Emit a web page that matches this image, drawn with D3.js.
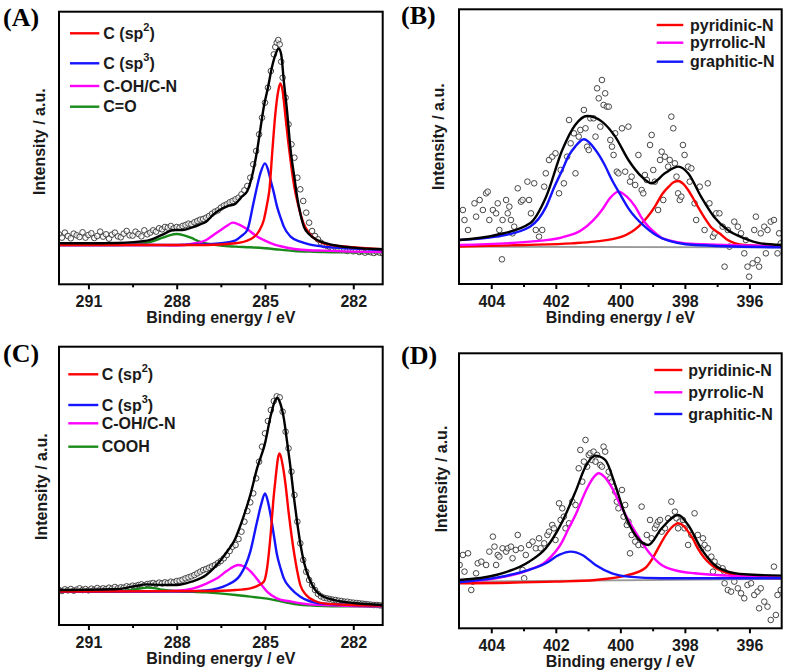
<!DOCTYPE html>
<html><head><meta charset="utf-8">
<script src="https://cdn.jsdelivr.net/npm/d3@7"></script>
<style>body{margin:0;background:#fff}</style>
</head><body><svg id="c" width="787" height="672"></svg>
<script>
// ---------- tick labels ----------
const ticksC = [291, 288, 285, 282];
const minorC = [289.5, 286.5, 283.5];
const ticksN = [404, 402, 400, 398, 396];
const minorN = [403, 401, 399, 397];

// ---------- legend labels ----------
const legendA = ["C (sp^2)", "C (sp^3)", "C-OH/C-N", "C=O"];
const legendC = ["C (sp^2)", "C (sp^3)", "C-OH/C-N", "COOH"];
const legendN = ["pyridinic-N", "pyrrolic-N", "graphitic-N"];

// ---------- Panel A (C1s) [eV, intensity] ----------
const A_CO = [[292,118],[290,118],[289.5,120],[289,125],[288.75,131],[288.5,139],[288.25,147],[288,151],[287.75,147],[287.5,139],[287.25,129],[287,123],[286.5,116],[286,113],[285.5,111],[285,108],[284.5,104],[284,100],[283.5,98],[283,97],[282,96],[281,96]];
const A_COH = [[292,118],[289,118],[288,117],[287.5,121],[287,133],[286.75,148],[286.5,163],[286.25,178],[286.1,185],[285.9,180],[285.6,165],[285.3,145],[285,131],[284.7,120],[284.5,115],[284,106],[283.5,102],[283,101],[282,98],[281,97]];
const A_sp3 = [[292,118],[289,118],[288,118],[287,120],[286.5,123],[286,132],[285.8,145],[285.6,163],[285.4,240],[285.27,293],[285.15,335],[285.0,363],[284.9,345],[284.81,313],[284.7,275],[284.59,233],[284.45,195],[284.36,173],[284.13,143],[283.8,128],[283.5,120],[283,113],[282,107],[281,103]];
const A_sp2 = [[292,118],[288,118],[287,118],[286,123],[285.5,135],[285.2,160],[285.04,193],[284.93,240],[284.85,283],[284.75,400],[284.65,510],[284.55,580],[284.48,603],[284.4,580],[284.3,500],[284.2,420],[284.1,350],[284.0,290],[283.85,230],[283.7,185],[283.5,153],[283.25,133],[283,123],[282.5,115],[282,111],[281,105]];
const A_env = [[292,123],[291,123],[290,124],[289,131],[288.5,148],[288.1,163],[287.8,163],[287.5,170],[287.2,180],[287,188],[286.75,210],[286.5,225],[286.25,235],[286.0,242],[285.8,262],[285.6,280],[285.4,340],[285.27,400],[285.15,470],[285.04,533],[284.9,590],[284.76,653],[284.62,695],[284.53,708],[284.45,690],[284.36,610],[284.25,520],[284.13,403],[284.0,320],[283.91,263],[283.8,213],[283.68,173],[283.5,150],[283.23,133],[283,125],[282.5,115],[282,110],[281,105]];
const A_pts = [[292.0,150],[291.9,140],[291.8,155],[291.7,145],[291.6,138],[291.5,152],[291.4,147],[291.3,142],[291.2,156],[291.1,140],[291.0,148],[290.9,153],[290.8,139],[290.7,145],[290.6,158],[290.5,143],[290.4,150],[290.3,137],[290.2,149],[290.1,155],[290.0,144],[289.9,141],[289.8,152],[289.7,160],[289.6,147],[289.5,146],[289.4,158],[289.3,151],[289.2,144],[289.1,162],[289.0,150],
[288.9,155],[288.8,162],[288.7,158],[288.6,168],[288.5,165],[288.4,172],[288.3,170],[288.2,175],[288.1,168],[288.0,172],
[287.9,170],[287.8,175],[287.7,178],[287.6,182],[287.5,180],[287.4,186],[287.3,190],[287.2,194],[287.1,196],[287.0,200],
[286.9,205],[286.8,212],[286.7,218],[286.6,222],[286.5,230],[286.4,236],[286.3,240],[286.2,246],[286.1,250],[286.0,255],
[285.9,260],[285.8,270],[285.7,282],[285.6,295],[285.5,320],[285.4,360],[285.3,400],[285.2,450],[285.1,500],[285.0,545],
[284.9,590],[284.8,640],[284.7,690],[284.65,712],[284.6,725],[284.55,733],[284.5,720],[284.45,668],[284.4,620],[284.3,560],[284.2,480],[284.1,420],[284.0,380],
[283.9,320],[283.8,285],[283.7,250],[283.6,215],[283.5,185],[283.4,160],[283.3,145],[283.2,135],[283.1,125],[283.0,118],
[282.9,115],[282.8,112],[282.7,108],[282.6,110],[282.5,105],[282.4,107],[282.3,103],[282.2,100],[282.1,104],[282.0,99],[281.9,101],[281.8,97],[281.7,99],[281.6,95],[281.5,98],[281.4,96],[281.3,94],[281.2,97],[281.1,95],[281.0,93]];

// ---------- Panel B (N1s) ----------
const B_base = [[405,112],[395,110]];
const B_pyd = [[405,112],[403,117],[401.5,122],[400.8,127],[399.95,142],[399.44,172],[398.93,232],[398.7,270],[398.5,292],[398.35,305],[398.2,309],[398.05,300],[397.9,282],[397.75,258],[397.6,232],[397.4,200],[397.2,172],[396.9,150],[396.67,132],[396.16,117],[395,112]];
const B_pyr = [[405,117],[402.8,127],[401.8,140],[401.2,162],[400.85,190],[400.57,222],[400.3,260],[400.06,277],[399.8,262],[399.54,232],[399.35,200],[399.13,172],[398.9,152],[398.7,137],[397.7,120],[395,114]];
const B_gra = [[405,132],[403.85,142],[402.8,172],[402.3,232],[402.05,290],[401.8,342],[401.6,385],[401.4,412],[401.13,434],[400.77,402],[400.5,360],[400.26,312],[400.0,268],[399.75,227],[399.24,172],[398.7,137],[397.7,117],[395,110]];
const B_env = [[405,132],[403.85,147],[402.8,182],[402.3,262],[401.8,402],[401.4,477],[401.03,504],[400.57,487],[400.16,442],[399.75,372],[399.34,322],[399.03,302],[398.62,332],[398.2,352],[397.9,332],[397.5,262],[397.1,202],[396.67,162],[396.16,137],[395.65,122],[395,117]];
const B_pts = [[404.88,222],[404.83,192],[404.72,162],[404.52,242],[404.47,202],[404.36,252],[404.26,222],[404.16,272],[404.11,277],[404.06,192],[403.95,222],[403.85,212],[403.80,242],[403.75,162],[403.65,192],[403.67,74],[403.54,252],[403.49,212],[403.44,232],[403.39,192],[403.34,152],[403.29,172],[403.18,287],[403.08,247],[403.03,252],[402.88,307],[402.83,252],[402.77,212],[402.67,302],[402.62,162],[402.52,142],[402.42,162],[402.36,292],[402.31,332],[402.21,372],[402.11,382],[402.01,392],[401.90,272],[401.85,342],[401.75,302],[401.65,382],[401.59,492],[401.54,422],[401.44,452],[401.39,332],[401.29,442],[401.24,462],[401.13,522],[401.08,467],[401.03,412],[400.98,402],[400.93,497],[400.83,497],[400.77,442],[400.72,587],[400.67,557],[400.62,472],[400.57,612],[400.52,537],[400.47,572],[400.42,532],[400.36,532],[400.31,432],[400.26,412],[400.21,387],[400.16,452],[400.11,337],[400.06,332],[399.95,467],[399.85,337],[399.75,472],[399.70,307],[399.65,322],[399.54,297],[399.44,387],[399.34,282],[399.29,272],[399.24,327],[399.18,312],[399.08,417],[399.03,447],[398.98,342],[398.93,307],[398.83,222],[398.77,372],[398.72,397],[398.67,252],[398.62,382],[398.52,352],[398.47,372],[398.42,502],[398.36,467],[398.31,362],[398.26,322],[398.21,272],[398.16,252],[398.11,262],[398.06,417],[398.01,387],[397.90,352],[397.85,307],[397.80,347],[397.70,242],[397.65,192],[397.54,292],[397.39,162],[397.29,302],[397.24,242],[397.13,142],[397.08,152],[397.03,212],[396.93,212],[396.83,172],[396.77,52],[396.67,162],[396.62,112],[396.47,187],[396.36,172],[396.26,152],[396.16,92],[396.11,132],[396.06,52],[396.01,22],[395.90,62],[395.85,162],[395.80,202],[395.75,72],[395.70,52],[395.65,152],[395.54,172],[395.49,92],[395.44,162],[395.34,187],[395.24,192],[395.13,92],[395.08,152],[395.03,122]];

// ---------- Panel C (C1s) ----------
const C_COOH = [[292,100],[290,101],[289.5,105],[289.2,110],[289.0,112],[288.7,110],[288.5,106],[288,102],[287,98],[286,90],[285.5,85],[285,80],[284.5,72],[284,63],[283.5,59],[283,57],[282,56],[281,55]];
const C_COH = [[292,100],[289,101],[288,103],[287.43,110],[286.97,125],[286.63,140],[286.3,162],[286.05,176],[285.9,180],[285.75,177],[285.61,170],[285.38,150],[285.16,125],[284.93,100],[284.6,80],[284.1,70],[283.5,62],[283,60],[282,57],[281,56]];
const C_sp3 = [[292,100],[288,100],[287,104],[286.29,120],[285.84,150],[285.5,220],[285.27,310],[285.12,365],[285.0,395],[284.9,370],[284.81,330],[284.7,270],[284.59,210],[284.47,170],[284.36,140],[284.13,110],[283.8,85],[283.5,72],[283,64],[282,60],[281,58]];
const C_sp2 = [[292,100],[287,102],[286,105],[285.5,110],[285.2,120],[285.04,130],[284.93,170],[284.81,270],[284.72,370],[284.64,440],[284.55,505],[284.5,515],[284.4,480],[284.3,420],[284.2,340],[284.1,270],[284.0,210],[283.9,160],[283.8,120],[283.6,90],[283.3,72],[283,65],[282,60],[281,58]];
const C_env = [[292,105],[290,108],[289.5,115],[289,122],[288.5,120],[288,120],[287.5,130],[287,150],[286.75,170],[286.5,195],[286.25,225],[286.06,250],[285.75,320],[285.5,390],[285.27,470],[285.0,545],[284.8,630],[284.65,675],[284.58,682],[284.5,670],[284.36,620],[284.25,550],[284.13,470],[284.02,385],[283.91,310],[283.8,245],[283.68,190],[283.45,130],[283.11,90],[282.5,72],[282,66],[281,60]];
const C_pts = [[292.0,105],[291.9,102],[291.8,107],[291.7,104],[291.6,108],[291.5,103],[291.4,106],[291.3,110],[291.2,105],[291.1,108],[291.0,104],[290.9,109],[290.8,106],[290.7,111],[290.6,107],[290.5,110],[290.4,108],[290.3,112],[290.2,109],[290.1,114],[290.0,110],[289.9,113],[289.8,112],[289.7,116],[289.6,114],[289.5,118],[289.4,117],[289.3,120],[289.2,122],[289.1,119],[289.0,123],
[288.9,124],[288.8,126],[288.7,123],[288.6,127],[288.5,125],[288.4,128],[288.3,126],[288.2,130],[288.1,128],[288.0,132],
[287.9,133],[287.8,136],[287.7,140],[287.6,143],[287.5,146],[287.4,150],[287.3,155],[287.2,160],[287.1,165],[287.0,168],
[286.9,172],[286.8,176],[286.7,180],[286.6,186],[286.5,192],[286.4,200],[286.3,210],[286.2,222],[286.1,235],[286.0,240],
[285.9,258],[285.8,280],[285.7,310],[285.6,342],[285.5,368],[285.4,395],[285.3,440],[285.2,490],[285.1,535],[285.0,575],
[284.9,612],[284.8,645],[284.7,672],[284.6,686],[284.5,683],[284.4,640],[284.3,580],[284.2,530],[284.1,460],[284.0,390],
[283.9,310],[283.8,245],[283.7,195],[283.6,160],[283.5,135],[283.4,120],[283.3,105],[283.2,93],[283.1,86],[283.0,82],
[282.9,80],[282.8,78],[282.7,76],[282.6,75],[282.5,73],[282.4,72],[282.3,70],[282.2,70],[282.1,68],[282.0,67],[281.9,66],[281.8,65],[281.7,64],[281.6,63],[281.5,62],[281.4,61],[281.3,60],[281.2,60],[281.1,59],[281.0,58]];

// ---------- Panel D (N1s) ----------
const D_base = [[405,140],[395,148]];
const D_pyd = [[405,135],[402,140],[400.77,145],[399.75,160],[399.24,180],[399.0,210],[398.83,240],[398.52,290],[398.35,308],[398.21,315],[398.05,308],[397.9,290],[397.75,268],[397.6,240],[397.4,212],[397.18,190],[396.67,165],[396.16,155],[395,150]];
const D_pyr = [[405,140],[403.85,150],[402.83,175],[402.31,200],[401.8,260],[401.6,300],[401.39,340],[401.03,420],[400.85,450],[400.67,465],[400.5,455],[400.31,430],[399.95,360],[399.54,290],[399.13,230],[398.72,190],[398.21,172],[397.7,165],[396.67,158],[395,152]];
const D_gra = [[405,138],[403.85,152],[402.83,175],[402.31,195],[401.9,220],[401.54,230],[401.18,220],[400.77,190],[400.26,165],[399.75,155],[398.72,150],[395,150]];
const D_env = [[405,145],[403.85,160],[402.83,200],[402.31,240],[401.8,320],[401.39,410],[401.08,485],[400.77,518],[400.47,505],[400.16,430],[399.85,340],[399.54,280],[399.13,250],[398.72,300],[398.21,340],[397.9,310],[397.5,240],[397.08,190],[396.67,170],[396.16,162],[395,158]];
const D_pts = [[404.98,190],[404.88,220],[404.83,170],[404.72,225],[404.62,115],[404.57,140],[404.47,165],[404.42,195],[404.31,200],[404.21,145],[404.16,190],[404.06,230],[403.95,275],[403.90,245],[403.85,190],[403.80,220],[403.75,215],[403.65,240],[403.54,230],[403.49,240],[403.39,245],[403.34,210],[403.24,235],[403.18,280],[403.08,240],[403.03,175],[402.98,150],[402.93,220],[402.83,250],[402.72,260],[402.62,240],[402.52,270],[402.47,240],[402.36,255],[402.26,280],[402.21,290],[402.11,310],[402.06,300],[402.01,265],[401.90,375],[401.85,325],[401.80,360],[401.75,335],[401.70,300],[401.59,315],[401.49,380],[401.39,370],[401.29,480],[401.24,535],[401.18,440],[401.13,500],[401.08,565],[401.03,485],[400.98,520],[400.93,525],[400.88,505],[400.83,530],[400.77,500],[400.72,520],[400.62,490],[400.57,485],[400.52,545],[400.47,530],[400.36,470],[400.31,450],[400.26,440],[400.16,410],[400.11,380],[400.06,360],[399.95,415],[399.90,335],[399.85,370],[399.80,310],[399.75,320],[399.70,225],[399.65,280],[399.54,260],[399.44,250],[399.34,365],[399.29,250],[399.18,280],[399.08,325],[399.03,270],[398.93,300],[398.88,310],[398.83,320],[398.77,325],[398.72,290],[398.62,300],[398.52,330],[398.42,380],[398.31,350],[398.26,330],[398.21,300],[398.16,320],[398.06,325],[398.01,300],[397.90,250],[397.80,280],[397.70,345],[397.60,280],[397.49,240],[397.44,270],[397.39,250],[397.29,240],[397.18,215],[397.13,170],[397.08,200],[396.98,185],[396.83,180],[396.77,135],[396.78,170],[396.67,115],[396.57,110],[396.47,140],[396.36,120],[396.26,105],[396.16,90],[396.06,130],[395.95,135],[395.85,100],[395.75,110],[395.70,60],[395.65,120],[395.54,80],[395.44,65],[395.34,25],[395.24,185],[395.18,40],[395.13,100],[395.03,115]];

// ---------- drawing ----------
const RED = "#ff0000", BLUE = "#1414ff", MAG = "#ff00ff", GREEN = "#1a8a1a", GRAY = "#9a9a9a";
const svg = d3.select("#c");
const SANS = "'Liberation Sans', Arial, sans-serif";

const panels = [
  {id:"A", box:[59,11.7,382.7,284.3], xd:[292,281], ymax:818, ticks:ticksC, minor:minorC,
   pts:A_pts, curves:[[A_CO,GREEN],[A_COH,MAG],[A_sp3,BLUE],[A_sp2,RED],[A_env,"#000"]],
   legend:{labels:legendA, colors:[RED,BLUE,MAG,GREEN], x1:70, x2:99.3, tx:103.3, ys:[33.3,63.3,86,106.7]},
   tag:[3,26], ytitle:[45,141.7]},
  {id:"B", box:[459,9.3,781.7,284], xd:[405,395], ymax:824, ticks:ticksN, minor:minorN,
   pts:B_pts, curves:[[B_base,GRAY],[B_pyd,RED],[B_pyr,MAG],[B_gra,BLUE],[B_env,"#000"]],
   legend:{labels:legendN, colors:[RED,MAG,BLUE], x1:656.7, x2:683.3, tx:690, ys:[25,42.7,61.7]},
   tag:[401,24], ytitle:[444,136.7]},
  {id:"C", box:[59,346.7,382.7,625], xd:[292,281], ymax:835, ticks:ticksC, minor:minorC,
   pts:C_pts, curves:[[C_COOH,GREEN],[C_COH,MAG],[C_sp3,BLUE],[C_sp2,RED],[C_env,"#000"]],
   legend:{labels:legendC, colors:[RED,BLUE,MAG,GREEN], x1:68.3, x2:98.3, tx:101.7, ys:[374.3,405,423.3,446.7]},
   tag:[3,362], ytitle:[46.5,486.7]},
  {id:"D", box:[459,353.3,781.7,628.3], xd:[405,395], ymax:825, ticks:ticksN, minor:minorN,
   pts:D_pts, curves:[[D_base,GRAY],[D_pyd,RED],[D_pyr,MAG],[D_gra,BLUE],[D_env,"#000"]],
   legend:{labels:legendN, colors:[RED,MAG,BLUE], x1:654.3, x2:682.3, tx:688.3, ys:[370,392.3,414]},
   tag:[401,364], ytitle:[446.5,479]}
];

panels.forEach(p => {
  const [x0,y0,x1,y1] = p.box;
  const x = d3.scaleLinear().domain(p.xd).range([x0,x1]);
  const y = d3.scaleLinear().domain([0,p.ymax]).range([y1,y0]);
  const g = svg.append("g");
  const clipId = "clip"+p.id;
  svg.append("clipPath").attr("id",clipId).append("rect")
     .attr("x",x0).attr("y",y0).attr("width",x1-x0).attr("height",y1-y0);
  const inner = g.append("g").attr("clip-path",`url(#${clipId})`);

  inner.selectAll("circle").data(p.pts).join("circle")
    .attr("cx",d=>x(d[0])).attr("cy",d=>y(d[1])).attr("r",2.8)
    .attr("fill","#fff").attr("fill-opacity",0.6).attr("stroke","#333").attr("stroke-width",0.9);

  const line = d3.line().x(d=>x(d[0])).y(d=>y(d[1])).curve(d3.curveMonotoneX);
  p.curves.forEach(([data,col]) => {
    const sorted = data.slice().sort((a,b)=>b[0]-a[0]);
    inner.append("path").attr("d",line(sorted)).attr("fill","none")
      .attr("stroke",col).attr("stroke-width", col===GRAY?1.8:2.4).attr("stroke-linejoin","round");
  });

  // frame
  g.append("rect").attr("x",x0).attr("y",y0).attr("width",x1-x0).attr("height",y1-y0)
    .attr("fill","none").attr("stroke","#000").attr("stroke-width",2);

  // axes
  const ax = g.append("g").attr("transform",`translate(0,${y1})`)
    .call(d3.axisBottom(x).tickValues(p.ticks).tickSize(5).tickPadding(6).tickFormat(d3.format("d")));
  ax.select(".domain").remove();
  ax.selectAll(".tick line").attr("stroke","#000").attr("stroke-width",2);
  ax.selectAll(".tick text").attr("dy",null).attr("y",22.5)
    .attr("font-family",SANS).attr("font-weight","bold").attr("font-size",16).attr("fill","#1a1a1a");
  const axm = g.append("g").attr("transform",`translate(0,${y1})`)
    .call(d3.axisBottom(x).tickValues(p.minor).tickSize(3).tickFormat(""));
  axm.select(".domain").remove();
  axm.selectAll(".tick line").attr("stroke","#000").attr("stroke-width",2);

  // titles
  g.append("text").attr("x",(x0+x1)/2).attr("y",y1+39).attr("text-anchor","middle")
    .attr("font-family",SANS).attr("font-weight","bold").attr("font-size",16).attr("fill","#1a1a1a")
    .text("Binding energy / eV");
  g.append("text").attr("transform",`translate(${p.ytitle[0]},${p.ytitle[1]}) rotate(-90)`)
    .attr("text-anchor","middle")
    .attr("font-family",SANS).attr("font-weight","bold").attr("font-size",16).attr("fill","#1a1a1a")
    .text("Intensity / a.u.");
  g.append("text").attr("x",p.tag[0]).attr("y",p.tag[1])
    .attr("font-family","'Liberation Serif','Times New Roman',serif").attr("font-weight","bold")
    .attr("font-size",26).text(`(${p.id})`);

  // legend
  const L = p.legend;
  L.labels.forEach((lab,i) => {
    const yy = L.ys[i];
    g.append("line").attr("x1",L.x1).attr("x2",L.x2).attr("y1",yy).attr("y2",yy)
      .attr("stroke",L.colors[i]).attr("stroke-width",2.4);
    const t = g.append("text").attr("x",L.tx).attr("y",yy+5.7)
      .attr("font-family",SANS).attr("font-weight","bold").attr("font-size",16).attr("fill","#1a1a1a");
    const m = lab.match(/^(.*)\^(.)(.*)$/);
    if (m) {
      t.append("tspan").text(m[1]);
      t.append("tspan").attr("font-size",11).attr("dy",-8).text(m[2]);
      t.append("tspan").attr("dy",8).text(m[3]);
    } else t.text(lab);
  });
});
</script>
</body></html>
